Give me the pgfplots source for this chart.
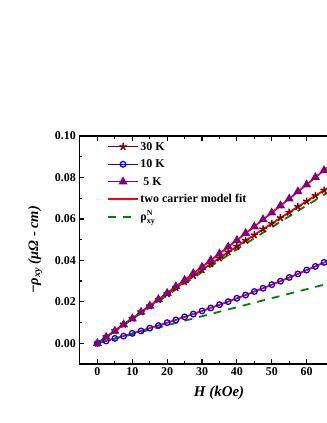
\documentclass[border=0pt]{standalone}
\usepackage{amsmath}
\usepackage{fontspec}
\setmainfont{Liberation Serif}
\usepackage{pgfplots}
\pgfplotsset{compat=1.18}

\definecolor{c30}{RGB}{128,0,0}
\definecolor{c10}{RGB}{0,0,255}
\definecolor{c5}{RGB}{128,0,128}
\definecolor{cfit}{RGB}{255,0,0}
\definecolor{cn}{RGB}{0,128,0}

\begin{document}
\begin{tikzpicture}
\useasboundingbox (0,0) rectangle (327bp,423bp);
\begin{axis}[
  at={(79.3bp,59bp)}, anchor=south west,
  scale only axis, width=262.2bp, height=228bp,
  xmin=-5.2, xmax=70, ymin=-0.01, ymax=0.10,
  xtick={0,10,...,60}, ytick={0,0.02,...,0.10},
  minor x tick num=1, minor y tick num=1,
  tick align=inside,
  major tick length=5bp, minor tick length=3bp,
  axis line style={line width=1.5bp},
  every tick/.style={line width=1.2bp, black},
  scaled y ticks=false,
  /pgf/number format/assume math mode=true,
  y tick label style={/pgf/number format/.cd, fixed, fixed zerofill, precision=2},
  tick label style={font=\fontsize{12}{14}\selectfont\bfseries},
  xlabel={\textbf{\textit{H (kOe)}}},
  ylabel={\textbf{\textit{−ρ\textsubscript{xy} (μΩ - cm)}}},
  every axis x label/.style={at={(axis description cs:0.533,-0.127)}, anchor=center,
    font=\fontsize{15}{17}\selectfont},
  every axis y label/.style={at={(axis description cs:-0.168,0.5)}, rotate=90, anchor=center,
    font=\fontsize{14.5}{17}\selectfont},
  legend style={draw=none, fill=none, font=\fontsize{12}{14}\selectfont\bfseries,
    at={(axis description cs:0.094,0.992)}, anchor=north west, row sep=4bp,
    nodes={inner sep=1.5bp, text height=8.5bp, text depth=2bp}},
  legend cell align=left,
  legend image code/.code={\draw[mark repeat=2,mark phase=2,#1] plot coordinates {(0bp,0bp)(15bp,0bp)(30bp,0bp)};},
]
\addplot[c30, line width=1.3bp, mark=star, mark size=3.8bp, mark options={line width=1.5bp}] coordinates {
(0,0)(2.5,0.00310)(5,0.00600)(7.5,0.00915)(10,0.01200)(12.5,0.01510)(15,0.01795)
(17.5,0.02100)(20,0.02380)(22.5,0.02685)(25,0.02960)(27.5,0.03262)(30,0.03540)
(32.5,0.03832)(35,0.04105)(37.5,0.04398)(40,0.04668)(42.5,0.04955)(45,0.05222)
(47.5,0.05508)(50,0.05770)(52.5,0.06052)(55,0.06312)(57.5,0.06590)(60,0.06848)
(62.5,0.07122)(65,0.07378)};
\addlegendentry{30 K}
\addplot[c10, line width=1.3bp, mark=o, mark size=2.8bp, mark options={line width=1.3bp, fill=c10!25}] coordinates {
(0,0)(2.5,0.00110)(5,0.00235)(7.5,0.00345)(10,0.00478)(12.5,0.00595)(15,0.00732)
(17.5,0.00855)(20,0.00996)(22.5,0.01126)(25,0.01273)(27.5,0.01408)(30,0.01561)
(32.5,0.01702)(35,0.01861)(37.5,0.02008)(40,0.02172)(42.5,0.02325)(45,0.02495)
(47.5,0.02653)(50,0.02829)(52.5,0.02993)(55,0.03175)(57.5,0.03345)(60,0.03532)
(62.5,0.03708)(65,0.03900)};
\addlegendentry{10 K}
\addplot[c5, line width=1.3bp, mark=triangle*, mark size=4bp] coordinates {
(0,0)(2.5,0.00300)(5,0.00590)(7.5,0.00900)(10,0.01190)(12.5,0.01505)(15,0.01800)
(17.5,0.02120)(20,0.02418)(22.5,0.02742)(25,0.03045)(27.5,0.03372)(30,0.03680)
(32.5,0.04010)(35,0.04320)(37.5,0.04656)(40,0.04970)(42.5,0.05310)(45,0.05628)
(47.5,0.05972)(50,0.06295)(52.5,0.06642)(55,0.06968)(57.5,0.07320)(60,0.07650)
(62.5,0.08006)(65,0.08340)};
\addlegendentry{\ 5 K}
\addplot[cfit, line width=1.6bp, smooth] coordinates {
(0,0)(5,0.00607)(10,0.01207)(15,0.01801)(20,0.02388)(25,0.02969)(30,0.03543)
(35,0.04111)(40,0.04672)(45,0.05227)(50,0.05775)(55,0.06317)(60,0.06852)(65,0.07381)(66,0.07486)};
\addlegendentry{two carrier model fit}
\addplot[cfit, line width=1.6bp, smooth, forget plot] coordinates {
(0,0)(5,0.00231)(10,0.00473)(15,0.00727)(20,0.00992)(25,0.01269)(30,0.01557)
(35,0.01857)(40,0.02168)(45,0.02491)(50,0.02825)(55,0.03171)(60,0.03528)(65,0.03897)(66,0.03972)};
\addplot[cfit, line width=1.6bp, smooth, forget plot] coordinates {
(0,0)(5,0.00594)(10,0.01196)(15,0.01806)(20,0.02424)(25,0.03050)(30,0.03684)
(35,0.04326)(40,0.04976)(45,0.05634)(50,0.06300)(55,0.06974)(60,0.07656)(65,0.08346)(66,0.08485)};
\addplot[cn, line width=1.8bp, dash pattern=on 8bp off 7bp, smooth] coordinates {
(0,0)(5,0.00587)(10,0.01168)(15,0.01743)(20,0.02312)(25,0.02875)(30,0.03432)
(35,0.03983)(40,0.04528)(45,0.05067)(50,0.05600)(55,0.06127)(60,0.06648)(66,0.07265)};
\addlegendentry{$\text{ρ}^{\text{\bfseries N}}_{\text{\bfseries xy}}$}
\addplot[cn, line width=1.8bp, dash pattern=on 8bp off 7bp, smooth, forget plot] coordinates {
(0,0)(5,0.00218)(10,0.00435)(15,0.00653)(20,0.00870)(25,0.01088)(30,0.01305)
(35,0.01523)(40,0.01740)(45,0.01958)(50,0.02175)(55,0.02393)(60,0.02610)(66,0.02871)};
\end{axis}
\end{tikzpicture}
\end{document}
